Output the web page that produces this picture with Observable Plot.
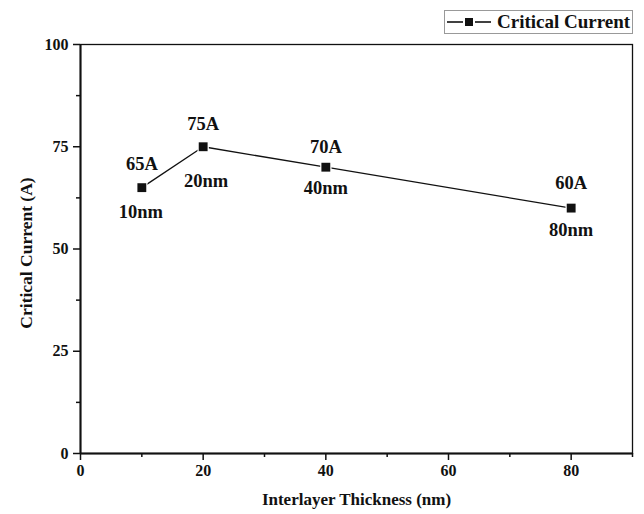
<!DOCTYPE html>
<html>
<head>
<meta charset="utf-8">
<script src="https://cdn.jsdelivr.net/npm/d3@7"></script>
<script src="https://cdn.jsdelivr.net/npm/@observablehq/plot@0.6"></script>
<style>
  body { margin: 0; background: #fff; }
  #wrap { position: relative; width: 644px; height: 514px; font-family: "Liberation Serif", serif; }
  #wrap svg text { font-family: "Liberation Serif", serif; }
  #legend { position: absolute; left: 444px; top: 10px; width: 189px; height: 24px; border: 1px solid #999; background: #fff;
            display: flex; align-items: center; font-weight: bold; font-size: 19px; color: #111; box-sizing: border-box; white-space: nowrap; overflow: hidden; }
  #legend svg { margin-left: 1px; margin-right: 5px; flex: none; }
</style>
</head>
<body>
<div id="wrap"><div id="legend"></div></div>
<script>
// Data
const thickness = [10, 20, 40, 80];          // nm
const current = [65, 75, 70, 60];            // A
const valueLabels = ["65A", "75A", "70A", "60A"];
const thicknessLabels = ["10nm", "20nm", "40nm", "80nm"];
const seriesName = "Critical Current";
const xLabel = "Interlayer Thickness (nm)";
const yLabel = "Critical Current (A)";
const xTicks = [0, 20, 40, 60, 80];
const xMinorTicks = [10, 30, 50, 70, 90];
const yTicks = [0, 25, 50, 75, 100];
const yMinorTicks = [12.5, 37.5, 62.5, 87.5];

// label offsets (style)
const aboveDy = [-24, -23, -20, -25];
const belowDy = [24, 34, 21, 22];
const belowDx = [-1, 3, 0, 0];

const data = thickness.map((t, i) => ({t, c: current[i], va: valueLabels[i], tl: thicknessLabels[i], i}));

const font = '"Liberation Serif", serif';
const ink = "#111";

const labelMarks = data.flatMap(d => [
  Plot.text([d], {x: "t", y: "c", text: "va", dy: aboveDy[d.i], fontSize: 18.5, fontWeight: "bold", fontFamily: font, fill: ink}),
  Plot.text([d], {x: "t", y: "c", text: "tl", dy: belowDy[d.i], dx: belowDx[d.i], fontSize: 18.5, fontWeight: "bold", fontFamily: font, fill: ink})
]);

const chart = Plot.plot({
  width: 644,
  height: 514,
  marginLeft: 80,
  marginRight: 12,
  marginTop: 44,
  marginBottom: 61,
  style: {fontFamily: font, fontWeight: "bold", fontSize: "16px", color: ink, background: "#fff"},
  x: {domain: [0, 90]},
  y: {domain: [0, 100]},
  marks: [
    Plot.frame({stroke: ink, strokeWidth: 1.3}),
    Plot.axisX({ticks: xTicks, tickSize: 7, tickPadding: 4, tickFormat: d => String(d), fontSize: 16, fontWeight: "bold", fontFamily: font,
      label: null, stroke: ink, strokeWidth: 1.5}),
    Plot.axisX({ticks: xMinorTicks, tickSize: 4, text: null, label: null, stroke: ink, strokeWidth: 1.5}),
    Plot.axisY({ticks: yTicks, tickSize: 7, tickPadding: 5, tickFormat: d => String(d), fontSize: 16, fontWeight: "bold", fontFamily: font,
      label: null, stroke: ink, strokeWidth: 1.5}),
    Plot.axisY({ticks: yMinorTicks, tickSize: 4, text: null, label: null, stroke: ink, strokeWidth: 1.5}),
    Plot.text([xLabel], {frameAnchor: "bottom", dy: 51, fontSize: 17, fontWeight: "bold", fontFamily: font, fill: ink}),
    Plot.text([yLabel], {frameAnchor: "left", textAnchor: "middle", dx: -54, dy: 4, rotate: -90, fontSize: 17.5, fontWeight: "bold", fontFamily: font, fill: ink}),
    Plot.ruleX([0], {stroke: ink, strokeWidth: 2}),
    Plot.ruleY([0], {stroke: ink, strokeWidth: 2}),
    Plot.line(data, {x: "t", y: "c", stroke: ink, strokeWidth: 1.3}),
    Plot.dot(data, {x: "t", y: "c", symbol: "square", r: 5, fill: ink, stroke: "#fff", strokeWidth: 2.5}),
    Plot.dot(data, {x: "t", y: "c", symbol: "square", r: 5, fill: ink}),
    ...labelMarks
  ]
});
document.getElementById("wrap").prepend(chart);

// Legend
const lg = document.getElementById("legend");
lg.innerHTML = `<svg width="46" height="12" viewBox="0 0 46 12">
  <line x1="1" y1="6" x2="17" y2="6" stroke="${ink}" stroke-width="1.6"/>
  <rect x="19" y="2" width="8" height="8" fill="${ink}"/>
  <line x1="29" y1="6" x2="45" y2="6" stroke="${ink}" stroke-width="1.6"/>
</svg><span></span>`;
lg.querySelector("span").textContent = seriesName;
</script>
</body>
</html>
